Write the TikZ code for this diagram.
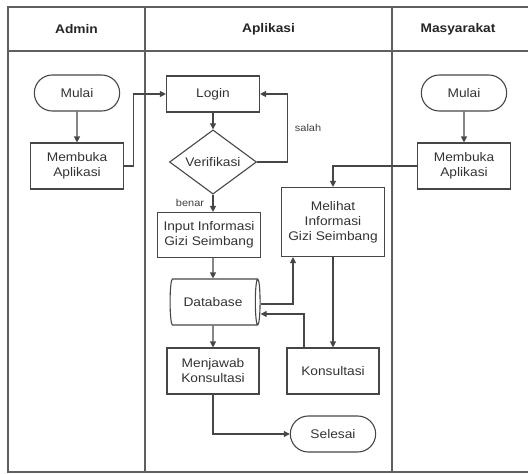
\documentclass[tikz,border=0pt]{standalone}
\usepackage{fontspec}
\setmainfont[FakeStretch=1.1]{Liberation Sans}
\usetikzlibrary{arrows.meta,shapes.geometric,shapes.misc}
\definecolor{linegray}{RGB}{70,70,70}
\definecolor{lanegray}{RGB}{95,95,95}
\tikzset{
    lane/.style={line width=1.4pt,draw=lanegray},
    lanehead/.style={font=\fontsize{12.5}{15}\selectfont\bfseries,text=black!85},
    boxtext/.style={font=\fontsize{12.5}{15}\selectfont,text=black!80,align=center},
    terminal/.style={boxtext,rounded rectangle,draw=linegray,line width=1.1pt,minimum width=92pt,minimum height=36pt},
    procbox/.style={boxtext,rectangle,draw=linegray,line width=1.1pt,minimum width=93pt,minimum height=46pt,inner sep=2pt},
    decision/.style={boxtext,diamond,draw=linegray,line width=1.1pt,inner sep=0pt,minimum width=87pt,minimum height=52pt},
    datastore/.style={boxtext,cylinder,draw=linegray,line width=1.1pt,shape aspect=0.3,minimum width=46pt,minimum height=90pt},
    flow/.style={-{Triangle[length=6pt,width=6pt]},line width=1.1pt,linegray},
    flowlabel/.style={font=\fontsize{10}{12}\selectfont,text=black!75}
}

\begin{document}
\begin{tikzpicture}[x=1pt,y=-1pt]
    \useasboundingbox (0,0) rectangle (528,474);
    % Swimlanes
    \draw[lane] (528,7) -- (8,7) -- (8,472) -- (528,472);
    \draw[lane] (8,51) -- (528,51);
    \draw[lane] (145,7) -- (145,472);
    \draw[lane] (392,7) -- (392,472);
    \node[lanehead] (hadmin) at (76.5,29) {Admin};
    \node[lanehead] (happ) at (268.5,29) {Aplikasi};
    \node[lanehead] (hmasy) at (458,29) {Masyarakat};
    % Admin
    \node[terminal] (amulai) at (77,93) {Mulai};
    \node[procbox] (abuka) at (77,166) {Membuka\\Aplikasi};
    % Aplikasi
    \node[procbox,minimum height=36pt] (login) at (213,94) {Login};
    \node[decision] (verif) at (213,162) {Verifikasi};
    \node[procbox,minimum width=103pt,minimum height=45pt] (input) at (209,235) {Input Informasi\\Gizi Seimbang};
    \node[datastore] (db) at (213,302) {Database};
    \node[procbox,minimum width=92pt] (jawab) at (213,371) {Menjawab\\Konsultasi};
    \node[procbox,minimum width=103pt,minimum height=69pt] (lihat) at (333,222) {Melihat\\Informasi\\Gizi Seimbang};
    \node[procbox,minimum width=92pt] (konsul) at (333,371) {Konsultasi};
    \node[terminal] (selesai) at (333,434) {Selesai};
    % Masyarakat
    \node[terminal] (mmulai) at (464,93) {Mulai};
    \node[procbox] (mbuka) at (464,166) {Membuka\\Aplikasi};
    % Alur
    \draw[flow] (amulai) -- (abuka);
    \draw[flow] (abuka.east) -- ++(9,0) |- (login.west);
    \draw[flow] (login) -- (verif);
    \draw[flow] (verif.east) -- ++(30,0) |- node[flowlabel,pos=0.25,right=4pt] {salah} (login.east);
    \draw[flow] (verif.south) -- node[flowlabel,pos=0.45,left=5pt] {benar} (verif.south |- input.north);
    \draw[flow] (input.south -| verif.south) -- (db);
    \draw[flow] (db) -- (jawab);
    \draw[flow] ([yshift=-2pt]db.east) -| ([xshift=-40pt]lihat.south);
    \draw[flow] ([xshift=-29pt]konsul.north) |- ([yshift=-12pt]db.east);
    \draw[flow] (lihat) -- (konsul);
    \draw[flow] (jawab.south) |- (selesai.west);
    \draw[flow] (mmulai) -- (mbuka);
    \draw[flow] (mbuka.west) -| (lihat.north);
\end{tikzpicture}
\end{document}
